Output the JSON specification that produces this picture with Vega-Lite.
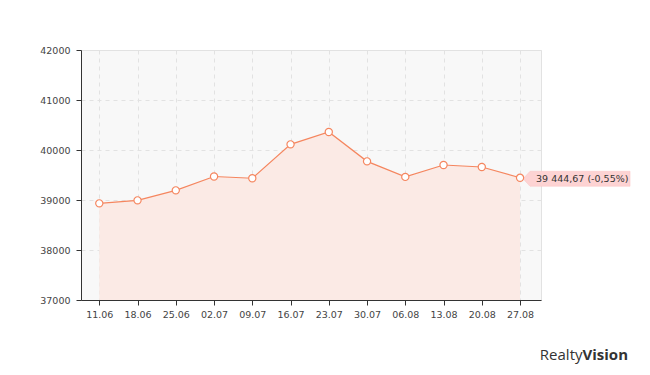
{
  "$schema": "https://vega.github.io/schema/vega-lite/v6.json",
  "width": 460,
  "height": 250,
  "autosize": {"type": "none"},
  "padding": {"left": 81, "top": 50, "right": 109, "bottom": 75},
  "background": "#ffffff",
  "data": {
    "values": [
      {"date": "11.06", "value": 38933},
      {"date": "18.06", "value": 38993},
      {"date": "25.06", "value": 39193},
      {"date": "02.07", "value": 39470},
      {"date": "09.07", "value": 39435},
      {"date": "16.07", "value": 40113},
      {"date": "23.07", "value": 40360},
      {"date": "30.07", "value": 39773},
      {"date": "06.08", "value": 39462},
      {"date": "13.08", "value": 39700},
      {"date": "20.08", "value": 39660},
      {"date": "27.08", "value": 39444.67, "label": "39 444,67 (-0,55%)"}
    ]
  },
  "title": {
    "text": "Vision",
    "orient": "bottom",
    "anchor": "end",
    "frame": "group",
    "font": "Open Sans",
    "fontSize": 15,
    "fontWeight": "bold",
    "color": "#333333",
    "offset": 0,
    "dy": -14,
    "dx": 87
  },
  "encoding": {
    "x": {
      "field": "date",
      "type": "ordinal",
      "sort": null,
      "scale": {"type": "point", "padding": 0.513, "align": 0.466},
      "axis": {
        "labelAngle": 0,
        "title": "Realty",
        "titleFont": "Open Sans",
        "titleFontSize": 15,
        "titleFontWeight": "normal",
        "titleColor": "#333333",
        "titleAnchor": null,
        "titleAlign": "right",
        "titleBaseline": "middle",
        "titleX": 501,
        "titleY": 54
      }
    },
    "y": {
      "field": "value",
      "type": "quantitative",
      "scale": {"domain": [37000, 42000], "zero": false, "nice": false},
      "axis": {"values": [37000, 38000, 39000, 40000, 41000, 42000], "format": "d", "title": null, "labelPadding": 6}
    }
  },
  "layer": [
    {"mark": {"type": "area", "color": "#fbeae5", "opacity": 1}, "encoding": {"y2": {"datum": 37000}}},
    {"mark": {"type": "line", "color": "#f5865f", "strokeWidth": 1.2}},
    {
      "transform": [{"filter": "datum.label"}],
      "mark": {
        "type": "point",
        "shape": "M0.06,0.02 L0.2,-0.13 L2.2,-0.13 L2.2,0.17 L0.2,0.17 Z",
        "size": 10000,
        "filled": true,
        "fill": "#fdd3d3",
        "stroke": "#f8c4c4",
        "strokeWidth": 0.5,
        "opacity": 1
      }
    },
    {"mark": {"type": "point", "filled": true, "fill": "#ffffff", "stroke": "#f5865f", "strokeWidth": 1.2, "size": 52, "opacity": 1}},
    {
      "transform": [{"filter": "datum.label"}],
      "mark": {"type": "text", "align": "left", "baseline": "middle", "dx": 16, "dy": 1, "font": "DejaVu Sans", "fontSize": 9.5, "color": "#333333"},
      "encoding": {"text": {"field": "label"}}
    }
  ],
  "config": {
    "view": {"stroke": "#e2e2e2", "fill": "#f8f8f8"},
    "axis": {
      "labelFont": "DejaVu Sans",
      "labelFontSize": 9.5,
      "labelColor": "#444444",
      "domainColor": "#333333",
      "tickColor": "#333333",
      "tickSize": 5,
      "labelPadding": 4,
      "grid": true,
      "gridColor": "#e2e2e2",
      "gridDash": [4, 4]
    }
  }
}
